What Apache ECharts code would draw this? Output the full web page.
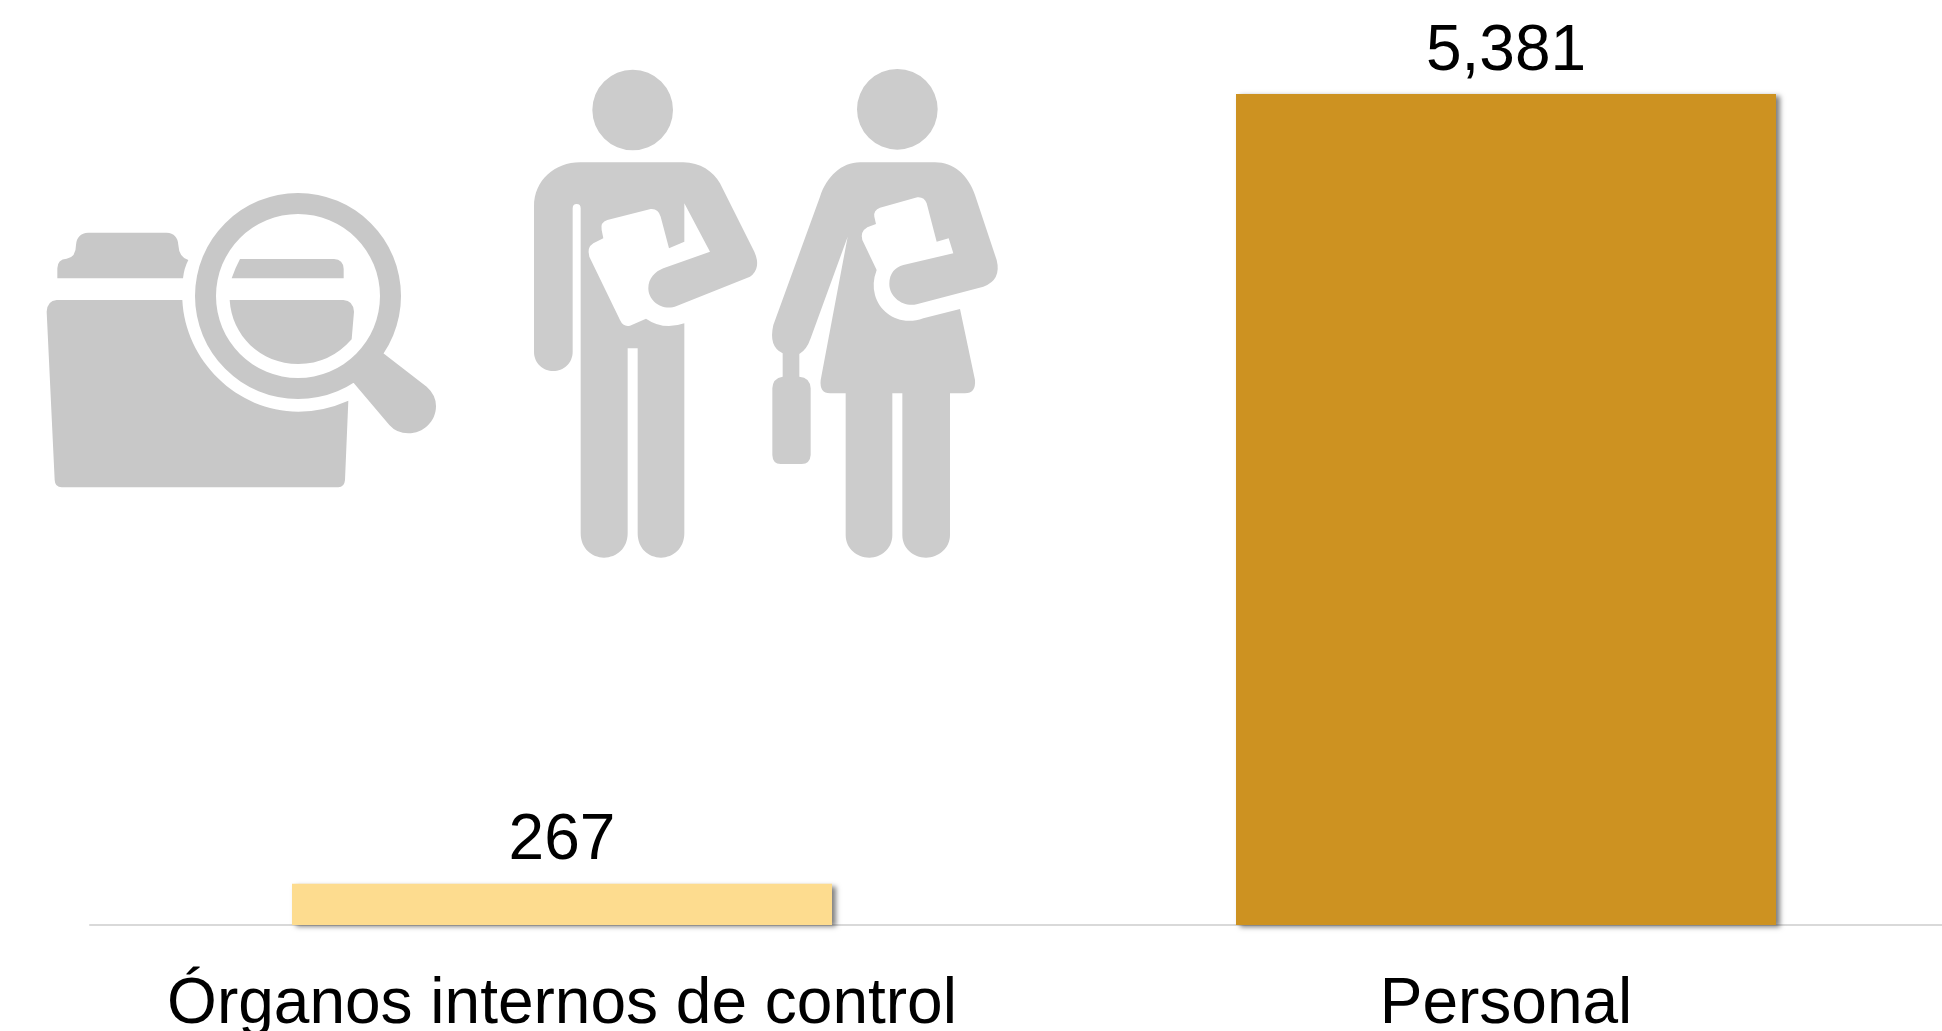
<!DOCTYPE html>
<html>
<head>
<meta charset="utf-8">
<title>Órganos internos de control y personal</title>
<script src="https://cdn.jsdelivr.net/npm/echarts@6/dist/echarts.min.js"></script>
<style>
  html, body { margin: 0; padding: 0; background: #fff; }
  #chart { width: 1942px; height: 1031px; }
</style>
</head>
<body>
<div id="chart"></div>
<script>
// Chart data
const categories = ['Órganos internos de control', 'Personal'];
const values = [267, 5381];
const barColors = ['#FDDC8F', '#CD9221'];

// Icon outlines, drawn in a 3x space and scaled down by the groups below
const folderPath =
  'M82,325 L82,295 Q82,268 110,266 Q138,262 138,225 Q140,190 175,188 L410,188 Q443,190 445,225 Q447,262 475,270 Q462,295 459,325 Z ' +
  'M605,325 Q615,295 630,267 L912,267 Q940,268 941,297 L941,325 Z ' +
  'M599,390 L940,390 Q970,392 972,425 L965,508 Q900,582 805,582 C690,582 605,495 599,390 Z ' +
  'M80,390 L457,390 C465,570 620,725 805,725 Q880,725 955,692 L945,930 Q943,952 925,952 L95,952 Q75,952 74,930 L50,425 Q52,392 80,390 Z ' +
  'M495,378 A309,309 0 1 1 1113,378 A309,309 0 1 1 495,378 Z M558,378 A246,246 0 1 0 1050,378 A246,246 0 1 0 558,378 Z ' +
  'M1060,550 L1190,650 Q1218,675 1218,708 C1218,755 1180,790 1135,790 Q1100,790 1078,765 L968,635 C1000,600 1030,570 1060,550 Z';
const manPath =
  'M217,150 A121,121 0 1 1 459,150 A121,121 0 1 1 217,150 Z ' +
  'M180,307 L490,307 C540,307 580,335 600,370 L703,575 Q725,625 690,650 L470,738 C430,755 385,725 385,685 C385,655 405,635 430,625 L570,575 L493,430 L493,545 L447,565 L422,470 Q415,445 392,447 L262,480 Q240,487 245,510 L250,535 L220,550 Q200,562 208,590 L300,780 Q310,802 330,797 L378,776 Q430,812 493,790 L493,1420 C493,1465 460,1493 423,1493 C385,1493 353,1465 353,1420 L353,865 L323,865 L323,1420 C323,1465 290,1493 252,1493 C215,1493 182,1465 182,1420 L182,445 Q182,432 170,432 Q158,432 158,445 L158,875 C158,910 130,933 100,933 C70,933 42,910 42,875 L42,440 C42,360 105,307 180,307 Z';
const womanPath =
  'M291,148 A121,121 0 1 1 533,148 A121,121 0 1 1 291,148 Z ' +
  'M300,307 L525,307 C580,307 625,345 645,405 L710,600 Q725,660 670,680 L470,733 C430,742 388,712 388,672 C388,640 405,622 430,615 L580,580 L566,535 L530,545 L500,430 Q493,410 472,412 L360,443 Q340,450 343,470 L348,492 L322,502 Q300,515 307,540 L350,630 Q335,670 345,705 C360,760 420,800 490,775 L600,747 L645,960 Q648,1000 615,1000 L570,1000 L570,1425 C570,1465 535,1493 498,1493 C460,1493 427,1465 427,1425 L427,1000 L397,1000 L397,1425 C397,1465 365,1493 328,1493 C290,1493 257,1465 257,1425 L257,1000 L210,1000 Q178,1000 182,960 L263,530 L152,835 Q140,870 118,882 L118,950 Q150,952 152,985 L152,1185 Q150,1212 125,1212 L62,1212 Q38,1212 37,1185 L37,985 Q38,955 68,950 L68,880 Q25,860 40,795 L180,410 C200,350 245,307 300,307 Z';

// Register the outlines so the graphic component can use them by name
echarts.graphic.registerShape('folderIcon', echarts.graphic.extendPath(folderPath, {}));
echarts.graphic.registerShape('manIcon', echarts.graphic.extendPath(manPath, {}));
echarts.graphic.registerShape('womanIcon', echarts.graphic.extendPath(womanPath, {}));

const iconGraphic = (type, x, y, color) => ({
  type: type,
  x: x,
  y: y,
  scaleX: 1 / 3,
  scaleY: 1 / 3,
  silent: true,
  style: { fill: color }
});

const chart = echarts.init(document.getElementById('chart'));

chart.setOption({
  animation: false,
  backgroundColor: '#fff',
  textStyle: { fontFamily: '"Liberation Sans", Arial, sans-serif' },
  // the plot runs past the right edge of the page, so the axis line is cut off there
  grid: { left: 90, top: 94, height: 831, width: 1888, outerBoundsMode: 'none', containLabel: false },
  xAxis: {
    type: 'category',
    data: categories,
    axisTick: { show: false },
    axisLine: { lineStyle: { color: '#D9D9D9', width: 2 } },
    axisLabel: { fontSize: 64, color: '#000', margin: 48, interval: 0 }
  },
  yAxis: {
    type: 'value',
    min: 0,
    max: 5381,
    show: false
  },
  series: [
    {
      type: 'bar',
      barWidth: 540,
      data: values.map((v, i) => ({ value: v, itemStyle: { color: barColors[i] } })),
      itemStyle: {
        shadowColor: 'rgba(0, 0, 0, 0.5)',
        shadowBlur: 5,
        shadowOffsetX: 4,
        shadowOffsetY: 2
      },
      label: {
        show: true,
        position: 'top',
        distance: 10,
        fontSize: 64,
        color: '#000',
        formatter: (p) => p.value.toLocaleString('en-US')
      }
    }
  ],
  graphic: [
    iconGraphic('folderIcon', 30, 170, '#C8C8C8'),
    iconGraphic('manIcon', 520, 60, '#CCCCCC'),
    iconGraphic('womanIcon', 760, 60, '#CCCCCC')
  ]
});
</script>
</body>
</html>
